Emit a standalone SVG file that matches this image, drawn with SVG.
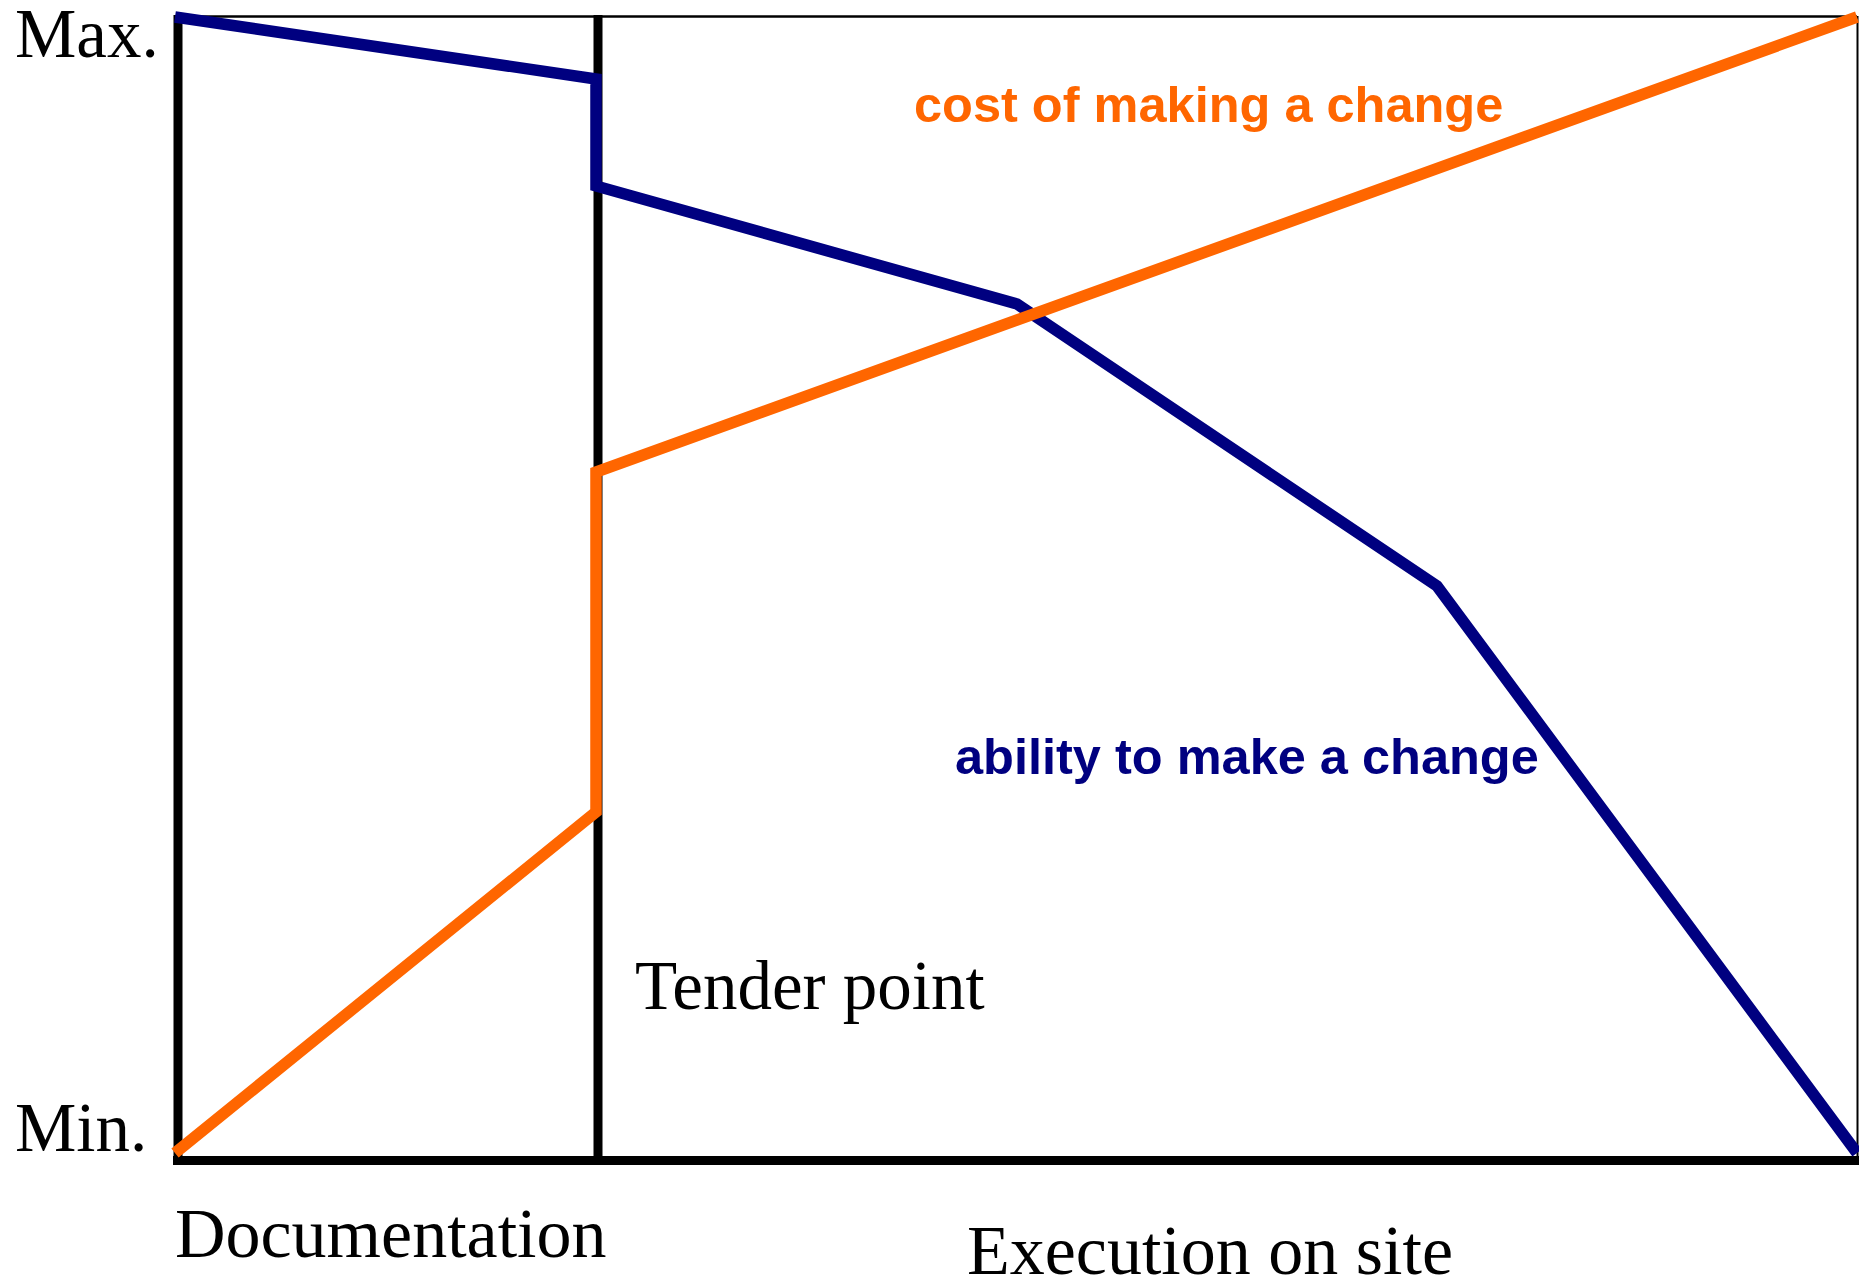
<svg xmlns="http://www.w3.org/2000/svg" width="1859" height="1278" viewBox="0 0 1859 1278">
  <style>
    .serif { font-family: "Liberation Serif", "Times New Roman", serif; fill: #000000; }
    .bold { font-family: "Liberation Sans", Arial, sans-serif; font-weight: bold; font-size: 50.5px; }
    .axis { stroke: #000000; fill: none; }
    .curve { fill: none; stroke-width: 11.5; stroke-linejoin: miter; stroke-linecap: butt; }
  </style>
  <rect x="0" y="0" width="1859" height="1278" fill="#ffffff"/>
  <g id="frame">
    <line class="axis" x1="178" y1="16.5" x2="1857" y2="16.5" stroke-width="2.5"/>
    <line class="axis" x1="1857.5" y1="16" x2="1857.5" y2="1160" stroke-width="2"/>
    <line class="axis" x1="178" y1="15" x2="178" y2="1165" stroke-width="9"/>
    <line class="axis" x1="598" y1="15" x2="598" y2="1160" stroke-width="9"/>
    <line class="axis" x1="173" y1="1160.5" x2="1859" y2="1160.5" stroke-width="9"/>
  </g>
  <g id="connectors">
    <polyline id="ability-line" class="curve" stroke="#000080" points="175,17 596,79 596,186 1017,304 1437,586 1857,1153"/>
    <polyline id="cost-line" class="curve" stroke="#FF6600" points="175,1153 596,812 596,472 1857,17"/>
  </g>
  <g id="label-max"><text class="serif" x="15" y="57" font-size="69">Max.</text></g>
  <g id="label-min"><text class="serif" x="15" y="1151" font-size="69">Min.</text></g>
  <g id="label-documentation"><text class="serif" x="175" y="1257" font-size="70">Documentation</text></g>
  <g id="label-tender"><text class="serif" x="635" y="1009" font-size="69">Tender point</text></g>
  <g id="label-execution"><text class="serif" x="967" y="1274" font-size="70">Execution on site</text></g>
  <g id="label-cost"><text class="bold" x="914" y="122" fill="#FF6600">cost of making a change</text></g>
  <g id="label-ability"><text class="bold" x="955" y="774" fill="#000080">ability to make a change</text></g>
</svg>
